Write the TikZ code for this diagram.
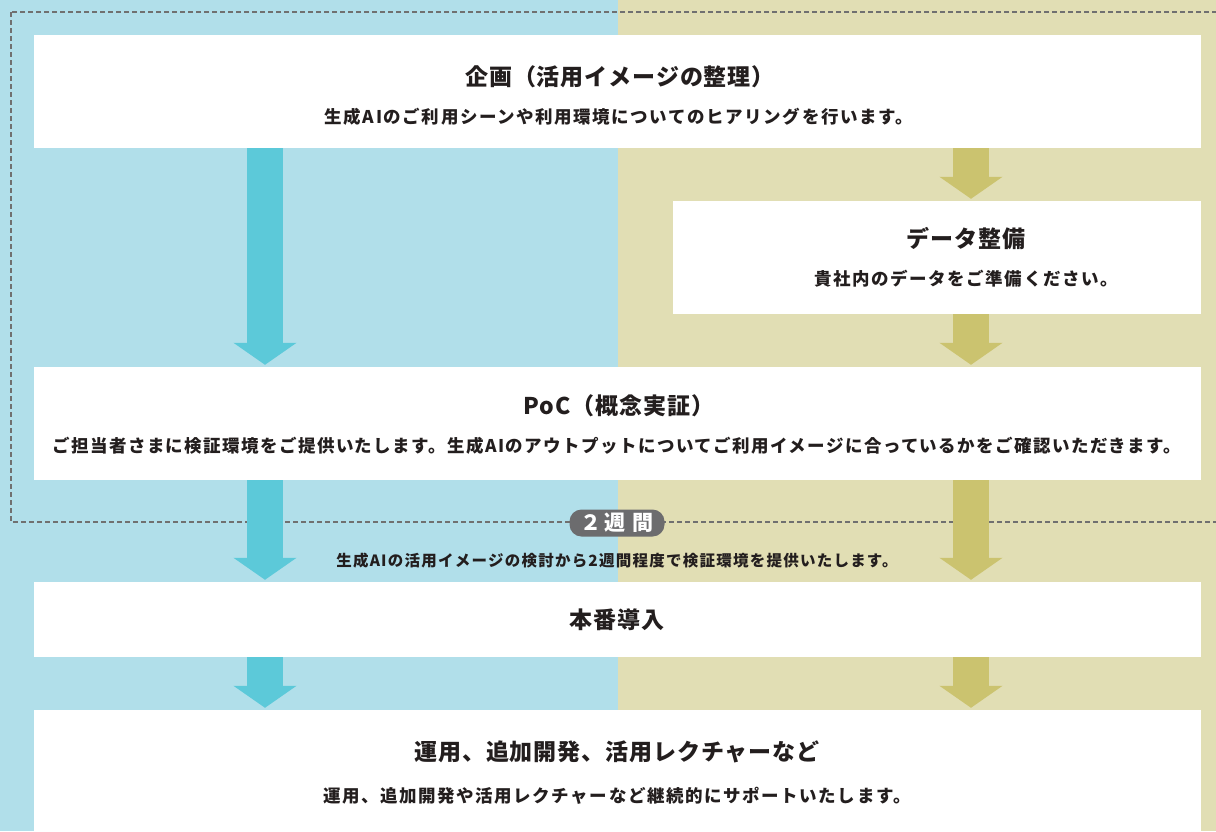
\documentclass[tikz,border=0pt]{standalone}
\usepackage{fontspec}
\setmainfont{Noto Sans CJK JP}
\usetikzlibrary{arrows.meta,positioning,calc}
\definecolor{leftbg}{RGB}{177,223,234}
\definecolor{rightbg}{RGB}{225,222,180}
\definecolor{leftarr}{RGB}{92,201,217}
\definecolor{rightarr}{RGB}{203,195,111}
\definecolor{framecol}{RGB}{112,112,112}
\definecolor{badgecol}{RGB}{108,108,110}
\definecolor{txtcol}{RGB}{35,30,30}
\tikzset{
  stepbox/.style   = {fill=white, inner sep=0pt, minimum width=1167pt, minimum height=113pt},
  steptitle/.style = {font=\fontsize{23}{28}\selectfont\bfseries\addfontfeatures{LetterSpace=4},
                      text=txtcol, inner sep=0pt},
  stepnote/.style  = {font=\fontsize{17.5}{22}\selectfont\bfseries\addfontfeatures{LetterSpace=9},
                      text=txtcol, inner sep=0pt},
  flow/.style      = {line width=36pt, shorten >=2pt, -{Triangle[length=22pt,width=62pt]}},
  leftflow/.style  = {flow, draw=leftarr},
  rightflow/.style = {flow, draw=rightarr},
  frameline/.style = {draw=framecol, line width=1.8pt, dash pattern=on 5pt off 3pt},
  badge/.style     = {fill=badgecol, text=white, rounded corners=12pt, minimum width=95pt,
                      minimum height=27pt, inner sep=0pt, font=\fontsize{21}{24}\selectfont\bfseries}
}

\begin{document}
\begin{tikzpicture}[x=1pt,y=-1pt]
\useasboundingbox (0,0) rectangle (1216,831);
\clip (0,0) rectangle (1216,831);

% --- two columns ---
\fill[leftbg] (0,0) rectangle (618,831);
\fill[rightbg] (618,0) rectangle (1216,831);

% --- two-week span ---
\draw[frameline] (11,12) rectangle (1240,522);

% --- steps ---
\node[stepbox] (plan) at (617.5,91.5) {};
\node[stepbox, minimum width=528pt] (data) at (937,257.5) {};
\node[stepbox] (poc) at (617.5,423.5) {};
\node[stepbox, minimum height=75pt] (deploy) at (617.5,619.5) {};
\node[stepbox, minimum height=140pt] (ops) at (617.5,780) {};

\node[steptitle] (plan-t) at (620,77) {企画（活用イメージの整理）};
\node[stepnote] (plan-n) at (619,117) {生成AIのご利用シーンや利用環境についてのヒアリングを行います。};
\node[steptitle] (data-t) at (966,239) {データ整備};
\node[stepnote] (data-n) at (966,279) {貴社内のデータをご準備ください。};
\node[steptitle] (poc-t) at (619,406) {PoC（概念実証）};
\node[stepnote, font=\fontsize{17.5}{22}\selectfont\bfseries\addfontfeatures{LetterSpace=8}] (poc-n) at (617,446)
  {ご担当者さまに検証環境をご提供いたします。生成AIのアウトプットについてご利用イメージに合っているかをご確認いただきます。};
\node[steptitle] (deploy-t) at (617,620) {本番導入};
\node[steptitle] (ops-t) at (617,752) {運用、追加開発、活用レクチャーなど};
\node[stepnote] (ops-n) at (617,796) {運用、追加開発や活用レクチャーなど継続的にサポートいたします。};

% --- arrows ---
\coordinate (lx) at (265,0);
\coordinate (rx) at (971,0);
\foreach \a/\b in {plan/poc, poc/deploy, deploy/ops}
  \draw[leftflow] (\a.south -| lx) -- (\b.north -| lx);
\foreach \a/\b in {plan/data, data/poc, poc/deploy, deploy/ops}
  \draw[rightflow] (\a.south -| rx) -- (\b.north -| rx);

% --- span label ---
\node[badge] (span) at (617,523) {２\hspace{4pt}週\hspace{7pt}間};
\node[stepnote, font=\fontsize{15.5}{18}\selectfont\bfseries\addfontfeatures{LetterSpace=8}] (span-n) at (617,561)
  {生成AIの活用イメージの検討から2週間程度で検証環境を提供いたします。};

\end{tikzpicture}
\end{document}
